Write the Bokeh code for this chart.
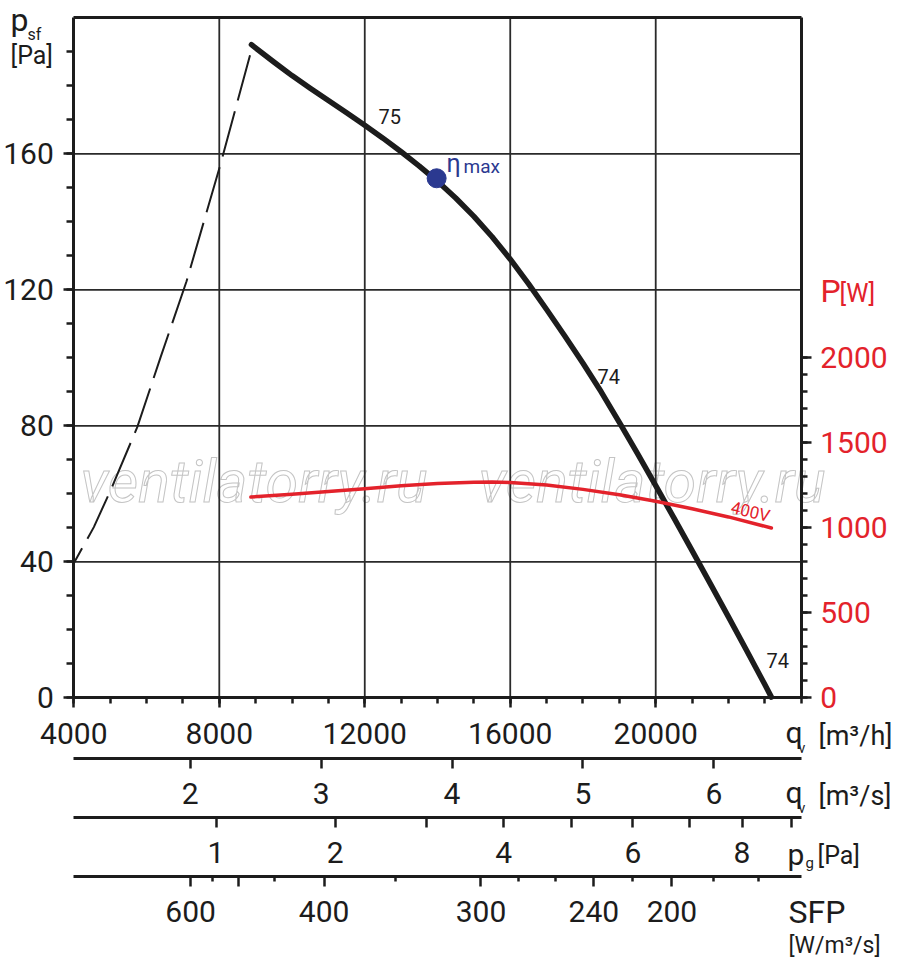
import math

from bokeh.plotting import figure
from bokeh.models import Range1d, LinearAxis, FixedTicker, Label
from bokeh.embed import file_html
from bokeh.resources import INLINE

# fan curve: air flow q [m3/h] and static pressure p_sf [Pa]
fan_q = [8884, 9500, 10000, 10500, 11000, 11500, 12000, 12500, 13000, 13500,
         14000, 14500, 15000, 15500, 16000, 16500, 17000, 17500, 18000, 18500,
         19000, 19500, 20000, 20500, 21000, 21500, 22000, 22500, 23000, 23180]
fan_p = [192.1, 187.0, 183.0, 179.3, 175.7, 172.1, 168.4, 164.6, 160.6, 156.4,
         151.9, 147.0, 141.6, 135.6, 129.0, 121.8, 114.2, 106.4, 98.4, 90.0,
         81.0, 71.8, 62.4, 52.9, 43.3, 33.6, 23.8, 13.9, 3.9, 0.2]
# dashed limit line, from the top of the curve down to the left edge
limit_q = [8845, 8038, 7100, 6387, 5745, 5010, 4551, 4000]
limit_p = [189.0, 157.1, 122.5, 100.2, 79.6, 61.0, 50.2, 39.6]
# power input at 400V [W]
power_q = [8868, 10000, 11000, 12000, 13000, 14000, 15000, 15500, 16000, 17000,
           18000, 19000, 20000, 21000, 22000, 23180]
power_w = [1181, 1198, 1213, 1230, 1248, 1261, 1268, 1269, 1267, 1252,
           1226, 1194, 1156, 1112, 1064, 999]
# point of max efficiency
eta_q = [13976]
eta_p = [152.8]

curve_labels = ["75", "74", "74"]

# axes
x_ticks = [4000, 8000, 12000, 16000, 20000]
x_minor = list(range(4000, 24001, 1000))
y_ticks = [0, 40, 80, 120, 160]
y_minor = list(range(0, 200, 10))
w_ticks = [0, 500, 1000, 1500, 2000]
w_minor = list(range(0, 2001, 100))
m3s_ticks = [2, 3, 4, 5, 6]
pg_values = [1, 2, 3, 4, 5, 6, 7, 8, 9]
pg_labelled = [1, 2, 4, 6, 8]
PG_K = 7910
sfp_values = [600, 550, 500, 450, 400, 350, 300, 280, 260, 240, 220, 200, 180, 160]
sfp_q = [7213, 7810, 8526, 9506, 10882, 12837, 15196, 16223, 17242, 18299,
         19353, 20446, 21591, 22830]
sfp_major = [600, 500, 400, 300, 240, 200]
sfp_labelled = [600, 400, 300, 240, 200]

FONT = "Roboto"
INK = "#1c1c1c"
RED = "#e3222b"
BLUE = "#2b3990"
W, H = 900, 970


def dx(sx):
    # pixel x -> air flow
    return 4000 + (sx - 73.3) * 20000 / 727.4


def dy(sy):
    # pixel y -> pressure
    return (697.3 - sy) * 200 / 680


def style_axis(ax, color=INK, standoff=15):
    ax.axis_line_width = 3
    ax.axis_line_color = INK
    ax.major_tick_line_width = 2.5
    ax.minor_tick_line_width = 2.5
    ax.major_tick_line_color = INK
    ax.minor_tick_line_color = INK
    ax.major_tick_in = 0
    ax.minor_tick_in = 0
    ax.major_tick_out = 10
    ax.minor_tick_out = 6
    ax.major_label_text_font = FONT
    ax.major_label_text_font_size = "30px"
    ax.major_label_text_color = color
    ax.major_label_standoff = standoff


# the frame covers the whole canvas, axes sit at fixed places inside it
p = figure(width=W, height=H, x_range=Range1d(dx(0), dx(W)), y_range=Range1d(dy(H), dy(0)),
           x_axis_type=None, y_axis_type=None, output_backend="svg", toolbar_location=None,
           min_border=0)
p.background_fill_color = "white"
p.border_fill_color = "white"
p.outline_line_color = None
p.extra_y_ranges = {"power": Range1d(dy(H) * 20, dy(0) * 20)}
p.extra_x_ranges = {"m3s": Range1d(dx(0) / 3600, dx(W) / 3600)}


def add_text(sx, sy, text, size, color=INK, **kw):
    # sy is the baseline; the label is placed by the middle of its capitals
    kw.setdefault("text_baseline", "alphabetic")
    kw.setdefault("text_align", "left")
    shift = 0.35 * size if kw["text_baseline"] == "alphabetic" else 0
    lab = Label(x=dx(sx), y=dy(sy - shift), text=text, text_font=FONT,
                text_font_size=f"{size}px", text_color=color, **kw)
    p.add_layout(lab)


# watermark
for sx in (80, 478):
    add_text(sx, 502, "ventilatorry.ru", 59, "white", text_font_style="italic",
             text_outline_color="#c4c4c4", level="underlay")

# grid
p.segment(x0=x_ticks[1:], y0=0, x1=x_ticks[1:], y1=200, line_color="#2a2a2a", line_width=1.8)
p.segment(x0=4000, y0=y_ticks[1:], x1=24000, y1=y_ticks[1:], line_color="#2a2a2a", line_width=1.8)

# pressure axis (left) and flow axis (bottom)
y_axis = LinearAxis(fixed_location=4000, bounds=(0, 200),
                    ticker=FixedTicker(ticks=y_ticks, minor_ticks=y_minor))
style_axis(y_axis, standoff=10)
y_axis.minor_tick_out = 7
p.add_layout(y_axis, "left")

x_axis = LinearAxis(fixed_location=0, bounds=(4000, 24000),
                    ticker=FixedTicker(ticks=x_ticks, minor_ticks=x_minor))
style_axis(x_axis)
p.add_layout(x_axis, "below")

# top border
top_axis = LinearAxis(fixed_location=200, bounds=(4000, 24000), ticker=FixedTicker(ticks=[]))
style_axis(top_axis)
p.add_layout(top_axis, "above")

# power axis on the right
w_axis = LinearAxis(y_range_name="power", fixed_location=24000, bounds=(0, 4000),
                    ticker=FixedTicker(ticks=w_ticks, minor_ticks=w_minor))
style_axis(w_axis, RED, standoff=9)
p.add_layout(w_axis, "right")

# air flow in m3/s
s_axis = LinearAxis(x_range_name="m3s", fixed_location=dy(757.7),
                    bounds=(4000 / 3600, 24000 / 3600), ticker=FixedTicker(ticks=m3s_ticks))
style_axis(s_axis)
p.add_layout(s_axis, "below")

# dynamic pressure p_g
pg_pos = {v: int(round(PG_K * math.sqrt(v))) for v in pg_values}
g_axis = LinearAxis(fixed_location=dy(816.7), bounds=(4000, 24000),
                    ticker=FixedTicker(ticks=[pg_pos[v] for v in pg_labelled],
                                       minor_ticks=[pg_pos[v] for v in pg_values if v not in pg_labelled]),
                    major_label_overrides={pg_pos[v]: str(v) for v in pg_labelled})
style_axis(g_axis)
g_axis.minor_tick_out = 10
p.add_layout(g_axis, "below")

# specific fan power
sfp_pos = dict(zip(sfp_values, sfp_q))
f_axis = LinearAxis(fixed_location=dy(875.7), bounds=(4000, 24000),
                    ticker=FixedTicker(ticks=[sfp_pos[v] for v in sfp_major],
                                       minor_ticks=[sfp_pos[v] for v in sfp_values if v not in sfp_major]),
                    major_label_overrides={sfp_pos[v]: (str(v) if v in sfp_labelled else "") for v in sfp_major})
style_axis(f_axis)
f_axis.minor_tick_out = 5
p.add_layout(f_axis, "below")

# curves
p.line(limit_q, limit_p, line_color=INK, line_width=2, line_dash="47 11")
p.line(fan_q, fan_p, line_color=INK, line_width=5.5, line_join="round", line_cap="round")
p.line(power_q, power_w, y_range_name="power", line_color=RED, line_width=3.5,
       line_join="round", line_cap="round")
p.scatter(eta_q, eta_p, size=19, fill_color=BLUE, line_color=BLUE)

for (sx, sy), t in zip([(378, 123), (597, 383), (766, 667)], curve_labels):
    add_text(sx, sy, t, 20)
add_text(446, 172, "η", 25, BLUE)
add_text(463, 173, "max", 19, BLUE)
add_text(750, 511, "400V", 17, RED, text_baseline="middle", text_align="center", angle=-0.23)

# axis titles
add_text(10, 31, "p", 32)
add_text(27, 40, "sf", 16)
add_text(10, 64, "[Pa]", 25)
add_text(820, 302, "P", 32, RED)
add_text(839, 302, "[W]", 25, RED)
add_text(785, 742, "q", 30)
add_text(798, 752, "v", 14)
add_text(818, 745, "[m³/h]", 27)
add_text(785, 802, "q", 30)
add_text(798, 812, "v", 14)
add_text(818, 805, "[m³/s]", 27)
add_text(787, 864, "p", 30)
add_text(805, 868, "g", 15)
add_text(817, 864, "[Pa]", 25)
add_text(788, 923, "SFP", 32)
add_text(788, 953, "[W/m³/s]", 23)

open("out.html", "w").write(file_html(p, INLINE))
